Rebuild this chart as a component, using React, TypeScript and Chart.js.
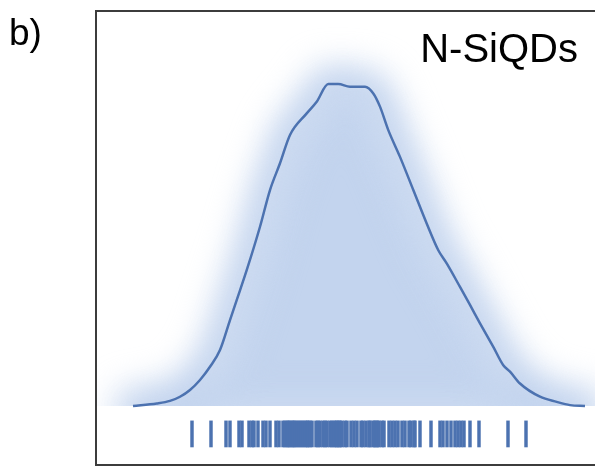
import { useEffect, useRef } from "react";
import { Chart, registerables } from "chart.js";

Chart.register(...registerables);

// KDE curve (arbitrary size units) and normalised density
const densityX = [
  1.37, 1.607, 1.74, 1.84, 1.94, 2.04, 2.14, 2.24, 2.34, 2.407, 2.507, 2.64, 2.74, 2.84, 2.94,
  3.107, 3.207, 3.323, 3.423, 3.54, 3.69, 3.773, 3.84, 3.923, 4.04, 4.173, 4.307, 4.423, 4.507,
  4.64, 4.74, 4.84, 4.973, 5.073, 5.14, 5.24, 5.44, 5.607, 5.74, 5.89,
];
const densityY = [
  0.0, 0.008, 0.016, 0.029, 0.05, 0.081, 0.122, 0.174, 0.267, 0.329, 0.422, 0.557, 0.671, 0.754,
  0.842, 0.909, 0.945, 1.0, 1.0, 0.992, 0.992, 0.971, 0.93, 0.857, 0.774, 0.671, 0.567, 0.484,
  0.443, 0.37, 0.314, 0.257, 0.184, 0.127, 0.107, 0.07, 0.029, 0.013, 0.003, 0.0,
];

// individual observations (rug)
const rugX = [
  1.96, 2.15, 2.3, 2.34, 2.43, 2.46, 2.53, 2.56, 2.58, 2.62, 2.67, 2.7, 2.74, 2.8, 2.83, 2.87,
  2.89, 2.91, 2.925, 2.94, 2.96, 2.975, 2.99, 3.01, 3.03, 3.05, 3.07, 3.09, 3.11, 3.12, 3.14,
  3.16, 3.2, 3.22, 3.24, 3.27, 3.29, 3.31, 3.34, 3.36, 3.38, 3.4, 3.41, 3.43, 3.44, 3.46, 3.49,
  3.51, 3.55, 3.58, 3.61, 3.65, 3.67, 3.7, 3.73, 3.74, 3.77, 3.785, 3.8, 3.815, 3.83, 3.86, 3.88,
  3.93, 3.96, 3.99, 4.02, 4.06, 4.09, 4.13, 4.15, 4.18, 4.19, 4.24, 4.35, 4.44, 4.47, 4.51, 4.55,
  4.59, 4.62, 4.65, 4.68, 4.74, 4.83, 5.12, 5.3,
];
const rugLow = -0.127;
const rugHigh = -0.046;

const panelLabel = "b)";
const sampleLabel = "N-SiQDs";

const LINE = "#4c72b0";
const FILL = "rgb(195,212,238)";

export default function App() {
  const ref = useRef<HTMLCanvasElement>(null);

  useEffect(() => {
    const canvas = ref.current!;

    const blurFill = {
      id: "blurFill",
      beforeDatasetsDraw(chart: any) {
        const meta = chart.getDatasetMeta(0);
        const pts = meta.data;
        const { ctx, chartArea } = chart;
        const baseY = chart.scales.y.getPixelForValue(0);
        ctx.save();
        ctx.beginPath();
        ctx.rect(chartArea.left, chartArea.top, chartArea.right - chartArea.left, baseY - chartArea.top);
        ctx.clip();
        ctx.filter = "blur(17px)";
        ctx.beginPath();
        pts.forEach((p: any, i: number) => (i ? ctx.lineTo(p.x, p.y) : ctx.moveTo(p.x, p.y)));
        ctx.lineTo(pts[pts.length - 1].x, baseY + 12);
        ctx.lineTo(pts[0].x, baseY + 12);
        ctx.closePath();
        ctx.fillStyle = FILL;
        ctx.fill();
        ctx.lineJoin = "round";
        ctx.lineWidth = 34;
        ctx.strokeStyle = FILL;
        ctx.stroke();
        ctx.restore();
      },
      afterDraw(chart: any) {
        const { ctx, chartArea } = chart;
        ctx.save();
        ctx.strokeStyle = "#3c3c3c";
        ctx.lineWidth = 2;
        ctx.strokeRect(chartArea.left, chartArea.top, chartArea.right - chartArea.left, chartArea.bottom - chartArea.top);
        ctx.fillStyle = "#000";
        ctx.textBaseline = "alphabetic";
        ctx.font = '40px "Liberation Sans", Arial, sans-serif';
        ctx.textAlign = "right";
        ctx.fillText(sampleLabel, chartArea.right - 22, chartArea.top + 51);
        ctx.font = '37px "Liberation Sans", Arial, sans-serif';
        ctx.textAlign = "left";
        ctx.fillText(panelLabel, 9, 45);
        ctx.restore();
      },
    };

    const chart = new Chart(canvas, {
      type: "scatter",
      data: {
        datasets: [
          {
            data: densityX.map((x, i) => ({ x, y: densityY[i] })),
            showLine: true,
            borderColor: LINE,
            borderWidth: 2.5,
            pointRadius: 0,
            cubicInterpolationMode: "monotone",
            fill: false,
          } as any,
          {
            type: "bar",
            data: rugX.map((x) => ({ x, y: [rugLow, rugHigh] })),
            barThickness: 2.8,
            backgroundColor: LINE,
            borderWidth: 0,
            grouped: false,
          } as any,
        ],
      },
      options: {
        animation: false,
        responsive: false,
        devicePixelRatio: 1,
        layout: { autoPadding: false, padding: { left: 96, top: 11, right: 5, bottom: 2 } },
        plugins: { legend: { display: false }, tooltip: { enabled: false } },
        events: [],
        scales: {
          x: { type: "linear", min: 1, max: 6.04, display: false, offset: false },
          y: { type: "linear", min: -0.183, max: 1.227, display: false },
        },
      },
      plugins: [blurFill],
    });
    return () => chart.destroy();
  }, []);

  return (
    <div style={{ position: "fixed", left: 0, top: 0, width: 595, height: 467, overflow: "hidden", background: "#fff" }}>
      <canvas ref={ref} width={605} height={467} style={{ display: "block", width: 605, height: 467 }} />
    </div>
  );
}
